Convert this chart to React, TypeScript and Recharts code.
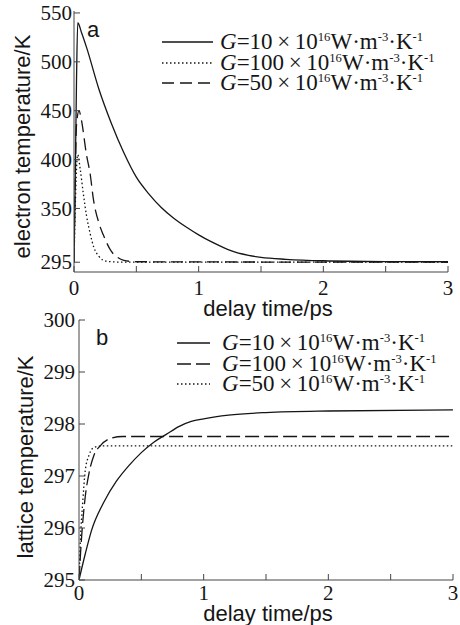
import React from 'react';
import { LineChart, Line, XAxis, YAxis, Legend } from 'recharts';

// ---- ticks / labels ----
const timeTicks = [0, 0.5, 1, 1.5, 2, 2.5, 3];
const electronTicks = [295, 350, 400, 450, 500, 550];
const latticeTicks = [295, 296, 297, 298, 299, 300];
const couplingG = [10, 100, 50];

// ---- (a) electron temperature ----
const eTimeG10 = [0, 0.01, 0.02, 0.03, 0.06, 0.1, 0.2, 0.3, 0.4, 0.5, 0.6, 0.7, 0.8, 0.9, 1.0, 1.1, 1.2, 1.3, 1.4, 1.5, 1.7, 2.0, 2.5, 3.0];
const eTempG10 = [295, 380, 480, 540, 530, 515, 472, 437, 407, 382, 365, 351, 340, 331, 323, 316, 310, 305, 302, 300, 298, 296.5, 295.7, 295.5];

const eTimeG100 = [0, 0.01, 0.02, 0.03, 0.05, 0.075, 0.1, 0.13, 0.16, 0.2, 0.26, 0.35, 3.0];
const eTempG100 = [295, 350, 390, 405, 390, 365, 343, 324, 310, 301, 296, 295.2, 295];

const eTimeG50 = [0, 0.01, 0.02, 0.04, 0.06, 0.1, 0.13, 0.155, 0.2, 0.235, 0.3, 0.35, 0.4, 0.5, 3.0];
const eTempG50 = [295, 380, 435, 450, 440, 405, 385, 360, 335, 323, 306, 300, 297, 295.5, 295];

// ---- (b) lattice temperature ----
const lTimeG10 = [0, 0.05, 0.1, 0.2, 0.3, 0.4, 0.5, 0.6, 0.7, 0.8, 0.9, 1.0, 1.2, 1.5, 2.0, 3.0];
const lTempG10 = [295, 295.5, 295.95, 296.5, 296.9, 297.2, 297.45, 297.65, 297.8, 297.95, 298.05, 298.1, 298.17, 298.22, 298.25, 298.27];

const lTimeG100 = [0, 0.02, 0.05, 0.08, 0.12, 0.17, 0.25, 0.35, 3.0];
const lTempG100 = [295, 295.8, 296.6, 297.05, 297.4, 297.58, 297.72, 297.76, 297.76];

const lTimeG50 = [0, 0.01, 0.03, 0.05, 0.08, 0.12, 0.2, 3.0];
const lTempG50 = [295, 295.7, 296.5, 297.1, 297.4, 297.55, 297.58, 297.58];

const zip = (ts: number[], vs: number[]) => ts.map((t, i) => ({ t, v: vs[i] }));

const SERIF_NAME = 'Liberation Serif';
const SERIF = '"Liberation Serif", "Times New Roman", serif';
const SANS = '"Liberation Sans", Arial, sans-serif';
const INK = '#151515';
const AXIS = '#444';

const tickText = { fontFamily: SERIF, fontSize: 21, fill: INK };
const fmtTime = (v: number) => (Number.isInteger(v) ? String(v) : '');
const blank = () => '';

const XTick = (p: any) => (
  <text x={p.x} y={p.y} dy="0.72em" textAnchor="middle" fontFamily={SERIF_NAME} style={tickText}>{fmtTime(p.payload.value)}</text>
);
const YTick = (p: any) => (
  <text x={p.x} y={p.y} dy="0.34em" textAnchor="end" fontFamily={SERIF_NAME} style={tickText}>{String(p.payload.value)}</text>
);

type Row = { g: number; dash?: string };

const supStyle = { fontSize: '0.55em', verticalAlign: '0.6em', lineHeight: 0 } as const;

const LegendBox = ({ rows, sampleW, gap }: { rows: Row[]; sampleW: number; gap: number }) => (
  <div style={{ fontFamily: SERIF, fontSize: 23, lineHeight: '20.5px', color: INK }}>
    {rows.map((r, i) => (
      <div key={i} style={{ display: 'flex', alignItems: 'center', height: 20.5, whiteSpace: 'nowrap' }}>
        <svg width={sampleW} height={10} style={{ marginRight: gap, flex: 'none' }}>
          <line x1={0} y1={5} x2={sampleW} y2={5} stroke={INK} strokeWidth={1.3} strokeDasharray={r.dash} />
        </svg>
        <span>
          <i>G</i>={r.g}{'\u2009×\u2009'}10<sup style={supStyle}>16</sup>W·m<sup style={supStyle}>-3</sup>·K<sup style={supStyle}>-1</sup>
        </span>
      </div>
    ))}
  </div>
);

const yTitle = (text: string, dxFromLeft: number, dy: number) => (p: any) => {
  const vb = p.viewBox || { x: 0, y: 0, width: 0, height: 0 };
  const cx = vb.x + dxFromLeft;
  const cy = vb.y + vb.height / 2 + dy;
  return (
    <text x={cx} y={cy} transform={`rotate(-90 ${cx} ${cy})`} textAnchor="middle" dominantBaseline="central"
      style={{ fontFamily: SANS, fontSize: 22, fill: INK }}>{text}</text>
  );
};

const xTitle = (text: string, dx: number, yFromTop: number) => (p: any) => {
  const vb = p.viewBox || { x: 0, y: 0, width: 0, height: 0 };
  const cx = vb.x + vb.width / 2 + dx;
  const cy = vb.y + yFromTop;
  return (
    <text x={cx} y={cy} textAnchor="middle" dominantBaseline="central"
      style={{ fontFamily: SANS, fontSize: 22, fill: INK }}>{text}</text>
  );
};

const dotted = '1.5 2.5';

export default function App() {
  const topRows: Row[] = [
    { g: couplingG[0] },
    { g: couplingG[1], dash: dotted },
    { g: couplingG[2], dash: '12 6' },
  ];
  const botRows: Row[] = [
    { g: couplingG[0] },
    { g: couplingG[1], dash: '14 5' },
    { g: couplingG[2], dash: dotted },
  ];
  return (
    <div style={{ position: 'absolute', left: 0, top: 0, width: 460, height: 625, background: '#fff', overflow: 'hidden' }}>
      <div style={{ position: 'absolute', left: 0, top: 0 }}>
        <LineChart width={460} height={320} margin={{ top: 11, right: 12, bottom: 0, left: 0 }}>
          <XAxis xAxisId="b" dataKey="t" type="number" domain={[0, 3]} ticks={timeTicks}
            height={48} tickSize={-6} tickMargin={14} stroke={AXIS} tick={<XTick />} interval={0} allowDataOverflow
            label={{ content: xTitle('delay time/ps', 7, 36) }} />
          <XAxis xAxisId="t" orientation="top" type="number" domain={[0, 3]} ticks={timeTicks} tickFormatter={blank}
            height={0} tickSize={-6} stroke={AXIS} interval={0} />
          <YAxis yAxisId="l" type="number" domain={[285, 552]} ticks={electronTicks} width={74} tickSize={-6} tickMargin={8}
            stroke={AXIS} tick={<YTick />} interval={0} allowDataOverflow
            label={{ content: yTitle('electron temperature/K', 22, 5) }} />
          <YAxis yAxisId="r" orientation="right" type="number" domain={[285, 552]} ticks={electronTicks} width={0}
            tickSize={-6} tickFormatter={blank} stroke={AXIS} interval={0} />
          <Legend layout="vertical" align="center" verticalAlign="middle"
            wrapperStyle={{ top: 32, left: 162, width: 'auto' }}
            content={() => <LegendBox rows={topRows} sampleW={51} gap={7} />} />
          <Line xAxisId="b" yAxisId="l" data={zip(eTimeG10, eTempG10)} dataKey="v" type="monotone" stroke={INK} strokeWidth={1.3} dot={false} isAnimationActive={false} />
          <Line xAxisId="b" yAxisId="l" data={zip(eTimeG100, eTempG100)} dataKey="v" type="monotone" stroke={INK} strokeWidth={1.3} strokeDasharray={dotted} dot={false} isAnimationActive={false} />
          <Line xAxisId="b" yAxisId="l" data={zip(eTimeG50, eTempG50)} dataKey="v" type="monotone" stroke={INK} strokeWidth={1.3} strokeDasharray="12 6" dot={false} isAnimationActive={false} />
        </LineChart>
      </div>
      <div style={{ position: 'absolute', left: 0, top: 300 }}>
        <LineChart width={460} height={325} margin={{ top: 20, right: 7, bottom: 0, left: 0 }}>
          <XAxis xAxisId="b" dataKey="t" type="number" domain={[0, 3]} ticks={timeTicks}
            height={45} tickSize={-6} tickMargin={11} stroke={AXIS} tick={<XTick />} interval={0} allowDataOverflow
            label={{ content: xTitle('delay time/ps', 2, 33) }} />
          <XAxis xAxisId="t" orientation="top" type="number" domain={[0, 3]} ticks={timeTicks} tickFormatter={blank}
            height={0} tickSize={-6} stroke={AXIS} interval={0} />
          <YAxis yAxisId="l" type="number" domain={[295, 300]} ticks={latticeTicks} width={79} tickSize={-6} tickMargin={10}
            stroke={AXIS} tick={<YTick />} interval={0} allowDataOverflow
            label={{ content: yTitle('lattice temperature/K', 25, 7) }} />
          <YAxis yAxisId="r" orientation="right" type="number" domain={[295, 300]} ticks={latticeTicks} width={0}
            tickSize={-6} tickFormatter={blank} stroke={AXIS} interval={0} />
          <Legend layout="vertical" align="center" verticalAlign="middle"
            wrapperStyle={{ top: 33, left: 177, width: 'auto' }}
            content={() => <LegendBox rows={botRows} sampleW={33} gap={12} />} />
          <Line xAxisId="b" yAxisId="l" data={zip(lTimeG10, lTempG10)} dataKey="v" type="monotone" stroke={INK} strokeWidth={1.3} dot={false} isAnimationActive={false} />
          <Line xAxisId="b" yAxisId="l" data={zip(lTimeG100, lTempG100)} dataKey="v" type="monotone" stroke={INK} strokeWidth={1.3} strokeDasharray="14 5" dot={false} isAnimationActive={false} />
          <Line xAxisId="b" yAxisId="l" data={zip(lTimeG50, lTempG50)} dataKey="v" type="monotone" stroke={INK} strokeWidth={1.3} strokeDasharray={dotted} dot={false} isAnimationActive={false} />
        </LineChart>
      </div>
      <span style={{ position: 'absolute', left: 87, top: 18, fontFamily: SANS, fontSize: 22, lineHeight: '24px', color: INK }}>a</span>
      <span style={{ position: 'absolute', left: 96, top: 326, fontFamily: SANS, fontSize: 22, lineHeight: '24px', color: INK }}>b</span>
    </div>
  );
}
